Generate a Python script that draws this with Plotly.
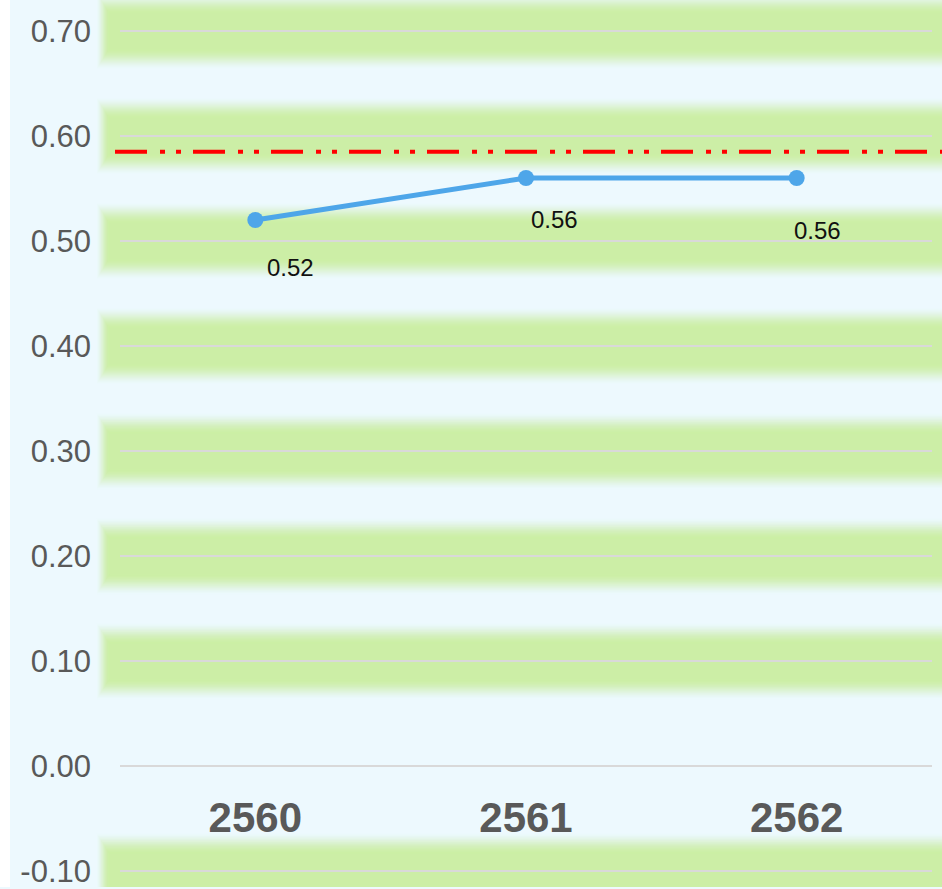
import plotly.graph_objects as go

# ---- data ----
years = ["2560", "2561", "2562"]
values = [0.52, 0.56, 0.56]
value_labels = ["0.52", "0.56", "0.56"]
threshold = 0.585
y_ticks = [-0.10, 0.00, 0.10, 0.20, 0.30, 0.40, 0.50, 0.60, 0.70]
y_tick_text = ["-0.10", "0.00", "0.10", "0.20", "0.30", "0.40", "0.50", "0.60", "0.70"]

# label offsets (pixels) for data labels
label_dx = [35, 28, 21]
label_dy = [-47, -41, -52]

W, H = 942, 889
L, R = 120, 10
px_per_unit = 1053.0  # pixels per 1.0 on y
y_top = 0.70 + 31 / px_per_unit
y_bot = 0.0 - (H - 768) / px_per_unit

x_idx = list(range(len(years)))

fig = go.Figure()
fig.add_trace(go.Scatter(
    x=x_idx, y=values, mode="lines+markers",
    line=dict(color="#4ea6e9", width=5),
    marker=dict(color="#4ea6e9", size=16),
    hoverinfo="skip", showlegend=False,
))

shapes = []
# white strip at far left
shapes.append(dict(type="rect", xref="paper", yref="paper", xsizemode="pixel", xanchor=0,
                   x0=-L, x1=-L + 10, y0=0, y1=1, fillcolor="white", line=dict(width=0), layer="below"))

# glowing green bands on non-zero grid lines (soft glow built from stacked translucent rects)
d_in, d_out, cmax = 17, 39, 0.95


def coverage(d):
    if d <= d_in:
        return cmax
    if d >= d_out:
        return 0.0
    t = (d_out - d) / (d_out - d_in)
    return cmax * t * t * (3 - 2 * t)


glow_layers = []
for h in range(d_out, d_in, -1):
    c_hi = coverage(h)
    c_lo = coverage(h - 1)
    a = 1 - (1 - c_lo) / (1 - c_hi)
    f = (d_out - h) / (d_out - d_in)
    xl = -24 + 14 * f
    glow_layers.append((h, xl, a))

for t in y_ticks:
    if abs(t) < 1e-9:
        continue
    for half, xl, a in glow_layers:
        shapes.append(dict(type="rect", xref="paper", yref="y",
                           xsizemode="pixel", xanchor=0, x0=xl, x1=W,
                           ysizemode="pixel", yanchor=t, y0=-half, y1=half,
                           fillcolor="rgba(204,240,163,%.4f)" % a, line=dict(width=0), layer="below"))

# red dash-dot-dot threshold line
shapes.append(dict(type="line", xref="paper", yref="y", xsizemode="pixel", xanchor=0,
                   x0=-5, x1=W, y0=threshold, y1=threshold,
                   line=dict(color="#ff0000", width=4, dash="32px,13px,5px,11px,5px,12px"),
                   layer="above"))

annotations = []
for xv, yv, txt, dx, dy in zip(x_idx, values, value_labels, label_dx, label_dy):
    annotations.append(dict(x=xv, y=yv, xref="x", yref="y", text=txt, showarrow=False,
                            xshift=dx, yshift=dy,
                            font=dict(family="Liberation Sans, Arial", size=24, color="#111111")))

zero_pos = (0 - y_bot) / (y_top - y_bot)

fig.update_layout(
    width=W, height=H,
    margin=dict(l=L, r=R, t=0, b=0),
    paper_bgcolor="#edf9fe",
    plot_bgcolor="#edf9fe",
    shapes=shapes,
    annotations=annotations,
    xaxis=dict(range=[-0.5, 2.5], tickvals=x_idx, ticktext=years,
               showgrid=False, zeroline=False, showline=False,
               anchor="free", position=zero_pos, ticks="", ticklabelstandoff=23,
               tickfont=dict(family="Liberation Sans, Arial", size=42, color="#595959", weight="bold")),
    yaxis=dict(range=[y_bot, y_top], tickvals=y_ticks, ticktext=y_tick_text,
               showgrid=True, gridcolor="#d9d9d9", gridwidth=2, zeroline=False, showline=False,
               ticks="", ticklabelstandoff=28, ticklabeloverflow="allow",
               tickfont=dict(family="Liberation Sans, Arial", size=31, color="#595959")),
    font=dict(family="Liberation Sans, Arial"),
)

fig.write_html("out.html", config={"displayModeBar": False},
               post_script="document.body.style.margin='0';document.body.style.padding='0';")
